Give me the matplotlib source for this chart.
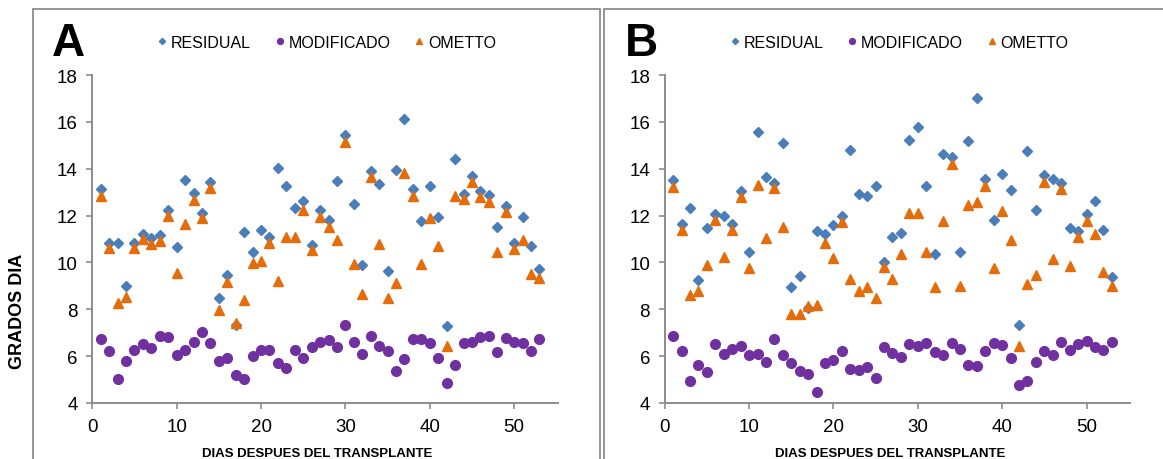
import matplotlib.pyplot as plt
from matplotlib.patches import Rectangle

plt.rcParams['font.family'] = ['Liberation Sans', 'DejaVu Sans']

# dias despues del transplante
dias = list(range(1, 54))

# panel A
res_a = [13.14, 10.85, 10.85, 8.99, 10.85, 11.23, 11.05, 11.15, 12.25, 10.65,
         13.50, 12.96, 12.13, 13.44, 8.48, 9.45, 7.34, 11.30, 10.45, 11.38,
         11.09, 14.04, 13.26, 12.33, 12.64, 10.75, 12.22, 11.79, 13.46, 15.45,
         12.50, 9.89, 13.91, 13.33, 9.63, 13.94, 16.14, 13.12, 11.76, 13.27,
         11.92, 7.27, 14.43, 12.94, 13.71, 13.06, 12.86, 11.50, 12.42, 10.82,
         11.96, 10.68, 9.71]
mod_a = [6.74, 6.24, 5.03, 5.78, 6.27, 6.51, 6.33, 6.87, 6.81, 6.03,
         6.25, 6.62, 7.01, 6.54, 5.81, 5.91, 5.18, 5.03, 6.00, 6.27,
         6.27, 5.71, 5.51, 6.27, 5.94, 6.40, 6.62, 6.71, 6.40, 7.32,
         6.62, 6.10, 6.84, 6.43, 6.21, 5.38, 5.88, 6.74, 6.74, 6.57,
         5.94, 4.87, 5.64, 6.54, 6.62, 6.81, 6.85, 6.17, 6.77, 6.62,
         6.54, 6.24, 6.74]
omt_a = [12.85, 10.62, 8.25, 8.52, 10.62, 10.99, 10.78, 10.90, 11.97, 9.53,
         11.66, 12.67, 11.89, 13.16, 7.99, 9.18, 7.42, 8.39, 9.98, 10.06,
         10.83, 9.21, 11.09, 11.09, 12.23, 10.52, 11.96, 11.52, 10.96, 15.14,
         9.95, 8.66, 13.63, 10.78, 8.49, 9.11, 13.83, 12.84, 9.92, 11.89,
         10.69, 6.43, 12.82, 12.70, 13.42, 12.80, 12.59, 10.45, 12.16, 10.58,
         10.96, 9.49, 9.35]

# panel B
res_b = [13.52, 11.63, 12.34, 9.25, 11.46, 12.06, 11.99, 11.65, 13.06, 10.46,
         15.56, 13.63, 13.41, 15.08, 8.94, 9.44, 8.05, 11.35, 11.21, 11.61,
         11.99, 14.78, 12.94, 12.82, 13.28, 10.01, 11.10, 11.25, 15.23, 15.76,
         13.25, 10.35, 14.61, 14.50, 10.44, 15.18, 17.02, 13.56, 11.83, 13.76,
         13.10, 7.33, 14.75, 12.23, 13.72, 13.56, 13.41, 11.45, 11.34, 12.05,
         12.63, 11.39, 9.38]
mod_b = [6.85, 6.20, 4.96, 5.63, 5.33, 6.51, 6.10, 6.31, 6.42, 6.04,
         6.10, 5.77, 6.72, 6.07, 5.69, 5.36, 5.23, 4.48, 5.71, 5.84,
         6.24, 5.43, 5.40, 5.53, 5.08, 6.37, 6.12, 5.97, 6.51, 6.42,
         6.56, 6.17, 6.04, 6.54, 6.32, 5.63, 5.57, 6.21, 6.56, 6.49,
         5.94, 4.78, 4.96, 5.74, 6.24, 6.04, 6.62, 6.28, 6.51, 6.65,
         6.37, 6.28, 6.62]
omt_b = [13.22, 11.39, 8.63, 8.79, 9.88, 11.79, 10.23, 11.39, 12.78, 9.75,
         13.31, 11.04, 13.16, 11.52, 7.82, 7.81, 8.14, 8.18, 10.83, 10.19,
         11.73, 9.30, 8.80, 8.97, 8.49, 9.81, 9.31, 10.35, 12.09, 12.09,
         10.43, 8.96, 11.78, 14.20, 9.01, 12.46, 12.58, 13.28, 9.75, 12.20,
         10.94, 6.42, 9.08, 9.48, 13.42, 10.13, 13.12, 9.86, 11.07, 11.78,
         11.22, 9.59, 9.01]

paneles = [('A', res_a, mod_a, omt_a), ('B', res_b, mod_b, omt_b)]

c_res = '#4A7EBB'
c_mod = '#7030A0'
c_omt = '#E46C0A'
gris = '#8C8C8C'

W, H = 1163, 460
fig = plt.figure(figsize=(W / 100, H / 100), dpi=100)

# posiciones en pixeles: (izq eje, borde caja izq, borde caja der)
pos = [(92.3, 33, 600), (664.7, 604, 1175)]

for (letra, res, mod, omt), (x0, bx0, bx1) in zip(paneles, pos):
    fig.patches.append(Rectangle((bx0 / W, -0.1), (bx1 - bx0) / W, 1.1 - 10 / H,
                                 transform=fig.transFigure, fill=False,
                                 edgecolor=gris, linewidth=1.3))
    ax = fig.add_axes([x0 / W, 1 - 404 / H, 465.7 / W, 328 / H])
    ax.plot(dias, res, 'D', color=c_res, markersize=5.2, label='RESIDUAL', zorder=3)
    ax.plot(dias, mod, 'o', color=c_mod, markersize=7, label='MODIFICADO', zorder=2)
    ax.plot(dias, omt, '^', color=c_omt, markersize=7.5, label='OMETTO', zorder=3)
    ax.set_xlim(0, 55.2)
    ax.set_ylim(4, 18)
    ax.set_xticks(range(0, 51, 10))
    ax.set_yticks(range(4, 19, 2))
    for s in ['top', 'right']:
        ax.spines[s].set_visible(False)
    for s in ['left', 'bottom']:
        ax.spines[s].set_color(gris)
        ax.spines[s].set_linewidth(1.4)
    ax.tick_params(direction='out', length=4.5, width=1.2, color=gris,
                   labelsize=13.5, pad=6)
    ax.legend(loc='center', bbox_to_anchor=(0.5, 1.10), ncol=3, frameon=False,
              fontsize=11.5, markerscale=0.6, handletextpad=0.05,
              columnspacing=1.3, handlelength=1.0)
    fig.text((x0 - 40) / W, 1 - 44 / H, letra, fontsize=33, fontweight='bold',
             va='center', ha='left')
    fig.text((x0 + 225) / W, 1 - 454 / H, 'DIAS DESPUES DEL TRANSPLANTE',
             fontsize=9.5, fontweight='bold', ha='center', va='center')

fig.text(18 / W, 1 - 311 / H, 'GRADOS DIA', rotation=90, fontsize=13,
         fontweight='bold', ha='center', va='center')

fig.savefig('out.png', dpi=100)
